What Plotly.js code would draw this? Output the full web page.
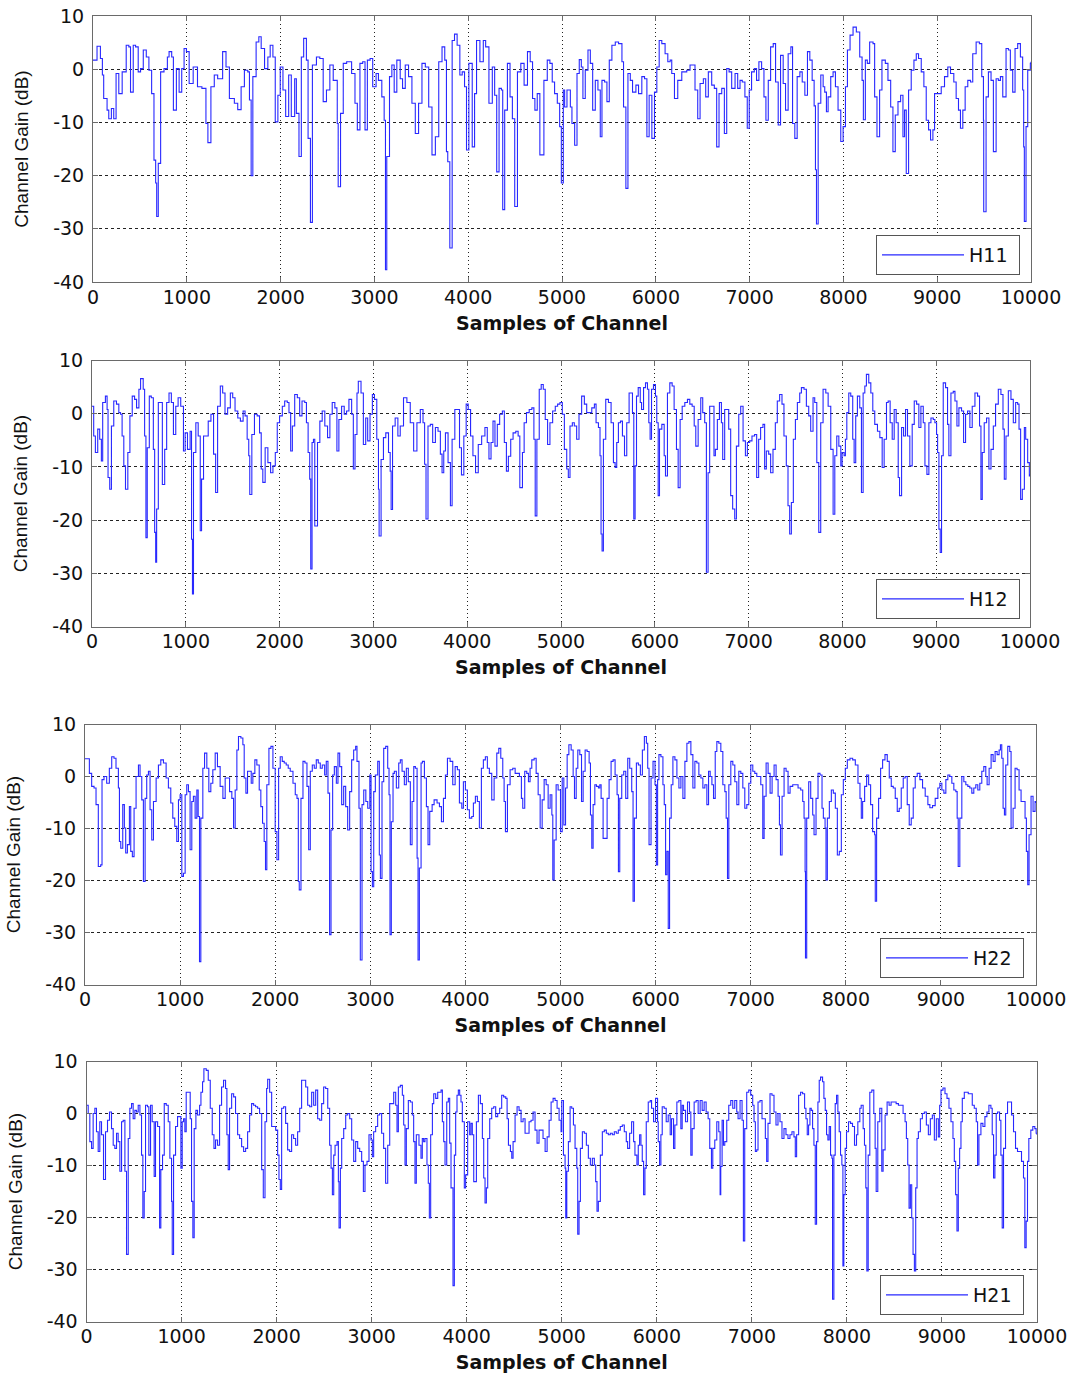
<!DOCTYPE html>
<html>
<head>
<meta charset="utf-8">
<script src="https://cdn.plot.ly/plotly-3.0.1.min.js"></script>
<style>
html,body{margin:0;padding:0;background:#fff;}
#chart{width:1082px;height:1376px;}
</style>
</head>
<body>
<div id="chart"></div>
<script>
// ---- data (x: sample index, y: channel gain in dB) ----
const seriesNames = ['H11', 'H12', 'H22', 'H21'];
const xTickVals = [0, 1000, 2000, 3000, 4000, 5000, 6000, 7000, 8000, 9000, 10000];
const xTickText = ['0', '1000', '2000', '3000', '4000', '5000', '6000', '7000', '8000', '9000', '10000'];
const yTickVals = [-40, -30, -20, -10, 0, 10];
const yTickText = ['-40', '-30', '-20', '-10', '0', '10'];
const xLabel = 'Samples of Channel';
const yLabel = 'Channel Gain (dB)';

const h11 = [[0,1.7],[43,4.3],[79,2.0],[100,-1.1],[114,-5.5],[150,-7.7],[168,-9.3],[196,-7.4],[221,-9.3],[246,-0.8],[275,-4.6],[311,-0.5],[354,4.5],[382,4.2],[400,-4.3],[429,4.5],[454,4.2],[482,-0.5],[507,0.1],[536,3.6],[568,2.3],[596,-0.2],[625,-4.6],[650,-17.1],[668,-21.4],[679,-27.7],[696,-17.7],[721,-0.5],[757,0.1],[793,2.3],[811,3.3],[839,2.3],[857,-7.7],[889,0.1],[918,-4.3],[946,0.1],[971,3.9],[996,3.3],[1025,-2.7],[1068,0.4],[1114,-3.3],[1161,-3.6],[1204,-10.2],[1225,-13.8],[1257,-3.3],[1293,-1.1],[1329,-1.8],[1382,3.3],[1418,0.4],[1454,-5.5],[1507,-6.4],[1543,-7.6],[1579,-3.3],[1614,-0.2],[1650,-0.5],[1668,-5.8],[1686,-20],[1704,-1.4],[1739,5.1],[1768,6.1],[1793,3.9],[1829,0.1],[1864,2.3],[1889,4.5],[1918,2.3],[1943,-9.9],[1971,-4.9],[1996,0.4],[2025,-3.9],[2054,-8.9],[2086,-1.1],[2114,-8.9],[2150,-1.8],[2168,-8.3],[2196,-16.4],[2221,2.3],[2246,5.8],[2275,1.7],[2293,-13],[2318,-28.8],[2339,0.8],[2382,2.3],[2418,2],[2454,-6.1],[2489,-3.9],[2525,0.8],[2561,-2.1],[2604,-10.2],[2614,-22.1],[2639,-8.3],[2668,1.1],[2704,1.4],[2757,-0.8],[2793,-6.4],[2818,-11.4],[2846,1.1],[2875,1.4],[2900,-11.4],[2925,1.7],[2954,2.0],[2982,-3.3],[3018,-0.8],[3043,-2.1],[3079,-5.2],[3104,-9.6],[3118,-37.7],[3132,-16.4],[3161,-1.4],[3186,0.8],[3211,-4.3],[3239,1.7],[3275,-1.8],[3300,-3.6],[3329,0.8],[3364,-1.4],[3400,-6.4],[3436,-12.1],[3471,-6.4],[3507,1.1],[3543,0.4],[3579,-7.1],[3614,-16.1],[3650,-12.7],[3686,1.4],[3721,4.2],[3750,1.7],[3768,-15.5],[3782,-17.4],[3804,-33.6],[3829,5.4],[3854,6.6],[3882,4.5],[3911,-1.1],[3936,-0.5],[3961,-3.3],[3982,-15.2],[4007,1.1],[4043,-14.6],[4068,-4.6],[4089,5.4],[4125,1.4],[4161,5.4],[4186,4.2],[4221,-6.4],[4257,0.4],[4282,-4.9],[4304,-19.3],[4329,-3.6],[4354,-3.9],[4368,-26.4],[4389,-7.7],[4418,1.1],[4446,-5.2],[4471,-9.3],[4496,-25.8],[4525,-0.5],[4561,1.1],[4596,-3],[4632,3.3],[4661,1.4],[4686,-5.5],[4711,-7.7],[4736,-4.6],[4764,-16.1],[4807,-2.1],[4843,1.7],[4871,1.1],[4896,-2.4],[4921,-4.6],[4950,-6.4],[4975,-10.8],[4993,-21.4],[5014,-3.9],[5028,-7.1],[5053,-3.9],[5089,-7.1],[5106,-10.2],[5135,-14.3],[5160,-0.8],[5184,1.8],[5206,0.4],[5223,-5.5],[5248,-0.2],[5277,3.6],[5302,1.1],[5327,-7.7],[5355,-2.1],[5383,-3.9],[5408,-12.7],[5426,-2.1],[5454,-2.4],[5479,-6.1],[5504,1.7],[5532,4.5],[5568,5.1],[5603,4.8],[5639,1.4],[5656,-7.1],[5681,-22.4],[5703,-0.8],[5728,-2.1],[5752,-4.3],[5788,-3],[5816,-4.6],[5851,-1.4],[5880,-1.8],[5905,-12.7],[5929,-4.9],[5958,-13],[5986,-4.3],[6011,0.4],[6036,5.4],[6064,4.8],[6099,2.9],[6128,1.4],[6153,1.7],[6170,-0.8],[6199,-5.5],[6234,-2.1],[6277,-0.5],[6330,-0.2],[6365,0.8],[6401,0.8],[6418,-3.9],[6447,-9.3],[6472,-2.7],[6507,-1.8],[6532,-5.2],[6560,-0.5],[6596,-3],[6624,-3.6],[6649,-14.6],[6674,-4.6],[6703,-3.6],[6731,-12.1],[6756,0.1],[6781,-0.5],[6809,-3.6],[6845,-0.8],[6873,-3.6],[6898,-2.1],[6922,-2.4],[6950,-5.2],[6975,-11.1],[6996,-3.9],[7021,-0.5],[7050,0.1],[7074,-2.1],[7099,1.4],[7128,0.1],[7153,-5.2],[7174,-9.6],[7199,-2.1],[7224,4.2],[7252,4.8],[7277,-2.4],[7305,-10.5],[7330,2.6],[7358,-2.7],[7383,-7.7],[7411,2.9],[7440,4.2],[7458,-10.2],[7482,-13],[7507,-1.4],[7536,-0.5],[7561,-2.4],[7589,-4.9],[7617,3.3],[7642,1.7],[7667,-2.1],[7688,-6.9],[7702,-18.9],[7713,-29.1],[7731,-6.4],[7759,-1.1],[7784,-3.3],[7801,-4.3],[7819,-8],[7837,-5.2],[7865,-1.4],[7890,-0.5],[7915,-3.3],[7943,-7.7],[7972,-13.6],[7997,-10.8],[8022,-3.3],[8043,3.6],[8071,6.4],[8103,7.9],[8138,7.0],[8174,2.3],[8199,-2.1],[8213,-9.5],[8234,1.7],[8255,1.1],[8280,5.1],[8316,4.8],[8333,-5.2],[8358,-12.7],[8386,-3.9],[8411,1.7],[8447,1.1],[8475,-2.1],[8504,-7.1],[8528,-15.5],[8553,-8.6],[8582,-6.1],[8610,-4.9],[8635,-12.7],[8652,-7.7],[8670,-19.6],[8695,-3.9],[8723,-0.2],[8752,1.7],[8777,2.9],[8801,2],[8830,-0.5],[8858,-3.3],[8883,-9.6],[8908,-11.4],[8929,-13.3],[8954,-11.4],[8972,-4.6],[9007,-4.6],[9043,-3.3],[9078,-1.4],[9113,0.4],[9142,-0.8],[9177,-2.4],[9202,-5.5],[9227,-7.7],[9248,-11.1],[9273,-7.7],[9298,-3.3],[9326,-2.1],[9355,-2.4],[9379,2.9],[9415,5.1],[9450,4.8],[9475,-1.4],[9493,-9.6],[9496,-26.8],[9521,-5.2],[9546,-0.5],[9574,-2.1],[9599,-15.5],[9628,-1.8],[9652,-2.1],[9674,-1.4],[9699,-5.2],[9734,3.9],[9759,3.6],[9780,-0.2],[9805,-4.3],[9830,3.9],[9858,4.8],[9887,2.3],[9911,-3.9],[9922,-14.6],[9929,-28.6],[9947,-10.8],[9965,-0.2],[9993,1.1],[10000,1.4]];

const h12 = [[0,1.4],[18,-4.2],[36,-7.3],[61,-2.9],[82,-4.8],[100,-8.9],[114,2.1],[143,3.3],[161,0.8],[171,-12.0],[189,-14.2],[207,-2.3],[232,2.4],[261,1.8],[286,0.2],[304,-0.1],[321,-4.2],[339,-9.8],[357,-14.2],[382,-7.3],[404,-0.4],[429,3.3],[454,2.7],[475,1.1],[500,4.6],[518,6.6],[546,4.6],[561,-4.2],[575,-23.3],[589,-6.4],[611,3.3],[632,3.0],[654,-6.7],[668,-22.3],[679,-27.9],[689,-17.9],[707,2.1],[732,2.1],[750,-13.3],[775,-6.7],[796,2.1],[821,3.9],[846,2.1],[868,-3.9],[893,1.4],[918,3.0],[946,1.4],[975,-7.0],[993,-3.6],[1018,-6.7],[1046,-3.3],[1061,-23.6],[1071,-33.9],[1082,-7.3],[1107,-1.7],[1132,-4.2],[1154,-22.0],[1168,-12.3],[1189,-4.2],[1214,-4.2],[1239,-1.4],[1268,-0.1],[1296,-7.6],[1318,-14.8],[1339,1.4],[1368,5.2],[1393,3.9],[1418,-0.1],[1446,1.1],[1475,3.9],[1500,3.0],[1525,0.5],[1554,-0.8],[1582,-1.4],[1611,0.5],[1632,-0.4],[1654,-4.8],[1671,-7.9],[1682,-15.2],[1704,-3.9],[1732,-0.1],[1761,-0.4],[1786,-3.6],[1804,-10.4],[1821,-12.9],[1846,-6.4],[1875,-9.2],[1904,-11.1],[1929,-9.8],[1954,-7.3],[1975,-1.7],[2000,-0.4],[2029,1.4],[2054,2.4],[2082,2.1],[2100,0.2],[2118,-7.0],[2136,-2.3],[2161,3.6],[2189,3.0],[2214,-0.4],[2239,2.4],[2268,2.1],[2286,-1.7],[2304,-7.3],[2321,-12.3],[2332,-29.2],[2346,-5.4],[2361,-4.8],[2375,-21.1],[2393,-21.1],[2404,-5.4],[2429,-1.4],[2454,0.5],[2482,-2.3],[2511,-4.5],[2536,-0.1],[2561,2.1],[2589,1.1],[2611,-7.0],[2632,-1.1],[2661,1.4],[2689,-0.1],[2714,0.5],[2739,2.7],[2768,-0.1],[2786,-10.4],[2804,-3.9],[2825,3.9],[2839,6.1],[2868,3.9],[2893,-5.8],[2918,-0.8],[2939,-5.1],[2964,-0.1],[2989,3.6],[3011,2.7],[3036,-4.8],[3054,-14.2],[3061,-23.0],[3082,-8.6],[3107,-4.5],[3132,-3.6],[3161,-7.3],[3179,-10.8],[3189,-18.0],[3204,-2.3],[3232,-0.8],[3261,-4.2],[3286,-2.3],[3321,3.0],[3357,2.1],[3393,-1.7],[3429,-7.0],[3464,-1.7],[3500,0.8],[3529,-1.7],[3546,-9.5],[3561,-19.8],[3582,-2.3],[3607,-2.0],[3632,-5.4],[3661,-2.6],[3689,-3.3],[3714,-7.6],[3732,-11.1],[3750,-7.0],[3768,-3.6],[3796,-9.2],[3821,-17.3],[3839,-4.8],[3868,0.8],[3893,0.8],[3918,-6.4],[3939,-11.5],[3964,-4.2],[3989,1.8],[4011,0.8],[4036,-4.2],[4061,-7.9],[4089,-11.1],[4118,-5.8],[4154,-4.2],[4189,-2.6],[4214,-5.4],[4232,-8.5],[4254,-5.4],[4275,-1.4],[4296,-6.1],[4321,-2.0],[4346,-0.1],[4375,0.5],[4396,-5.4],[4418,-10.8],[4439,-8.0],[4464,-4.8],[4489,-3.6],[4518,-3.3],[4543,-4.2],[4561,-13.9],[4589,-7.3],[4607,-1.7],[4632,0.2],[4661,0.8],[4689,1.1],[4711,-4.8],[4725,-19.2],[4743,-4.8],[4768,4.6],[4789,5.5],[4811,4.6],[4832,-1.1],[4857,-5.8],[4882,-1.7],[4911,0.5],[4939,1.4],[4964,1.8],[4989,2.1],[5014,-0.1],[5036,-6.7],[5061,-10.4],[5078,-12.0],[5096,-2.3],[5121,-1.7],[5142,-2.3],[5167,-4.8],[5192,-0.1],[5220,3.3],[5249,1.8],[5274,0.2],[5299,0.2],[5328,1.1],[5356,1.8],[5374,-1.7],[5399,-2.6],[5416,-7.9],[5427,-22.6],[5438,-25.8],[5452,-4.8],[5477,2.7],[5506,2.1],[5534,-1.7],[5559,-9.2],[5577,-10.1],[5594,-5.4],[5612,-1.7],[5634,-1.4],[5655,-4.2],[5677,-7.9],[5701,-1.7],[5726,3.9],[5748,3.9],[5762,0.2],[5776,-19.8],[5790,-9.8],[5805,3.3],[5823,4.9],[5845,2.1],[5859,0.8],[5880,4.9],[5901,5.8],[5922,4.6],[5936,-1.7],[5950,-4.8],[5965,4.6],[5986,5.5],[6007,3.3],[6021,-1.7],[6036,-15.4],[6050,-2.9],[6075,-2.0],[6100,-7.9],[6114,-11.7],[6135,3.9],[6160,5.8],[6185,5.2],[6206,0.8],[6231,-6.7],[6249,-13.9],[6270,-1.1],[6292,1.4],[6320,2.1],[6348,2.7],[6373,1.8],[6398,1.4],[6420,-2.3],[6437,-6.1],[6462,-1.1],[6490,3.0],[6511,0.2],[6532,-1.7],[6550,-29.8],[6568,-11.1],[6585,1.4],[6610,1.4],[6631,-7.9],[6646,-6.7],[6667,-1.1],[6689,2.1],[6710,-1.7],[6724,-8.6],[6745,0.8],[6766,0.8],[6788,-2.9],[6809,-15.4],[6830,-17.9],[6852,-19.8],[6870,-6.1],[6895,-0.1],[6916,1.4],[6941,-5.1],[6966,-7.9],[6987,-5.4],[7011,-5.1],[7036,-4.2],[7064,-3.9],[7086,-12.0],[7107,-4.8],[7128,-2.6],[7153,-2.0],[7171,-10.4],[7189,-7.0],[7214,-7.6],[7235,-11.1],[7260,-6.7],[7285,-1.7],[7306,2.4],[7331,3.6],[7356,1.8],[7377,-4.2],[7402,-9.8],[7420,-17.3],[7438,-22.6],[7456,-16.7],[7477,-4.8],[7499,-1.1],[7520,2.1],[7545,3.9],[7563,4.9],[7591,4.6],[7616,1.4],[7641,-0.4],[7662,-3.3],[7687,3.0],[7705,2.1],[7727,-9.2],[7748,-22.3],[7769,-1.7],[7794,4.6],[7823,3.9],[7848,1.4],[7876,-6.7],[7901,-18.9],[7919,-7.9],[7940,-4.2],[7962,-6.1],[7983,-9.8],[7997,-7.3],[8018,-7.9],[8032,-4.8],[8047,0.2],[8068,3.9],[8089,3.3],[8110,-4.8],[8125,-9.2],[8142,-0.4],[8160,3.3],[8185,1.1],[8203,-14.8],[8221,3.9],[8239,5.2],[8256,7.4],[8281,5.8],[8303,3.9],[8324,0.5],[8345,-2.0],[8374,-3.3],[8399,-4.5],[8424,-10.1],[8445,-4.8],[8470,2.1],[8488,2.4],[8509,-1.7],[8531,-4.8],[8552,0.8],[8573,-1.7],[8595,-12.0],[8609,-15.4],[8631,-2.6],[8652,-4.2],[8673,0.8],[8694,-4.2],[8719,-9.8],[8744,-2.0],[8766,2.4],[8791,1.8],[8815,-2.6],[8837,1.4],[8862,-1.7],[8880,-9.8],[8901,-11.4],[8922,-1.7],[8944,-0.8],[8969,-1.1],[8986,-1.7],[9004,-3.9],[9015,-7.3],[9029,-21.7],[9043,-26.1],[9057,-7.9],[9075,5.8],[9100,4.9],[9121,-2.0],[9135,-7.9],[9157,3.9],[9182,4.2],[9200,2.4],[9221,-2.3],[9242,1.1],[9270,0.5],[9292,-5.4],[9313,-0.1],[9334,0.5],[9359,-2.6],[9384,1.4],[9413,3.9],[9441,3.3],[9462,-2.3],[9477,-16.1],[9491,-7.3],[9512,-1.7],[9537,-0.8],[9562,-10.4],[9584,-6.7],[9609,-2.3],[9633,1.8],[9662,4.6],[9690,3.6],[9712,-2.9],[9726,-12.3],[9744,-4.2],[9769,4.3],[9797,2.7],[9822,-1.7],[9847,2.1],[9868,1.8],[9883,-2.9],[9900,-16.1],[9918,-14.2],[9940,-2.6],[9954,-4.8],[9975,-9.2],[9993,-11.7],[10000,-11.4]];

const h22 = [[0,3.4],[25,3.4],[46,0.6],[70,-1.9],[95,-2.2],[116,-5.4],[140,-17.3],[165,-17.0],[179,-0.6],[200,0],[228,-1.3],[256,1.6],[281,3.8],[305,3.5],[326,1.6],[351,-2.2],[362,-12.5],[376,-13.8],[397,-5.4],[414,-9.9],[428,-14.7],[446,-13.1],[467,-5.8],[481,-14.4],[498,-15.4],[516,-6.1],[537,0],[562,2.2],[579,0],[597,-4.5],[614,-20.2],[632,-4.2],[649,0.3],[667,1.0],[684,-6.4],[702,-12.2],[720,-4.8],[748,-0.3],[772,2.2],[797,3.2],[825,2.6],[853,-0.3],[877,-2.2],[902,-5.1],[923,-8.0],[944,-9.6],[965,-12.5],[983,-4.5],[1000,-3.5],[1018,-19.2],[1035,-18.6],[1053,-3.5],[1070,-1.6],[1088,-2.9],[1105,-14.1],[1123,-4.8],[1140,-3.8],[1158,-8.0],[1176,-2.6],[1190,-7.7],[1204,-35.6],[1218,-8.0],[1239,1.6],[1257,4.5],[1281,1.6],[1302,-2.9],[1323,-1.3],[1344,1.3],[1369,4.5],[1393,1.9],[1421,-1.9],[1450,-4.2],[1474,-0.3],[1492,-0.3],[1520,-2.9],[1544,-4.2],[1562,-9.9],[1579,-2.6],[1597,5.1],[1614,7.7],[1639,7.4],[1660,6.1],[1674,-0.3],[1692,-3.2],[1709,1.0],[1730,1.0],[1748,-1.3],[1765,0.6],[1786,3.2],[1807,2.2],[1832,-2.6],[1849,-5.8],[1867,-9.0],[1884,-12.5],[1898,-17.9],[1912,-1.6],[1934,5.4],[1955,5.8],[1976,1.6],[2000,-10.6],[2018,-16.0],[2036,1.6],[2053,3.8],[2074,2.9],[2095,2.6],[2116,2.2],[2137,1.6],[2158,1.0],[2187,-1.3],[2211,-3.5],[2229,-4.2],[2243,-20.2],[2253,-21.8],[2271,-4.2],[2292,2.9],[2313,2.6],[2334,-1.9],[2352,-14.1],[2369,1.0],[2390,2.2],[2411,1.6],[2432,3.2],[2453,2.6],[2474,1.6],[2495,2.2],[2520,0.3],[2537,2.9],[2555,-3.2],[2572,-30.4],[2587,-10.3],[2604,0.3],[2622,1.9],[2643,-1.3],[2660,4.5],[2678,1.9],[2699,-5.4],[2720,-1.9],[2741,-5.8],[2762,-10.3],[2783,-2.9],[2804,3.2],[2825,5.1],[2846,5.8],[2860,2.9],[2881,-6.1],[2895,-35.3],[2913,-5.4],[2931,-2.6],[2953,-4.8],[2973,-6.1],[2995,0.3],[3008,-18.3],[3022,-21.2],[3036,-2.9],[3053,0.3],[3078,2.9],[3095,-15.1],[3106,-19.6],[3123,-1.0],[3141,5.4],[3162,5.8],[3183,1.6],[3197,-3.5],[3207,-30.4],[3221,-8.7],[3239,0.6],[3253,1.0],[3274,-2.2],[3299,2.6],[3316,3.2],[3334,1.0],[3358,-1.6],[3379,1.6],[3400,-1.0],[3421,-13.1],[3439,-4.8],[3457,1.9],[3474,1.6],[3492,-15.7],[3502,-35.3],[3516,-17.6],[3534,2.6],[3548,2.9],[3569,-0.3],[3590,-5.8],[3607,-13.1],[3625,-6.7],[3650,-5.4],[3671,-4.5],[3702,-5.1],[3727,-5.8],[3748,-8.7],[3769,-4.2],[3790,0.3],[3811,3.5],[3839,2.9],[3867,-1.6],[3892,1.9],[3916,1.3],[3937,-5.1],[3962,-6.1],[3979,-1.0],[4000,-2.6],[4021,-6.4],[4042,-8.0],[4067,-7.7],[4084,-5.1],[4105,-3.8],[4126,-4.8],[4147,-9.9],[4168,1.6],[4189,3.2],[4210,3.8],[4231,1.6],[4252,0.6],[4277,-4.5],[4302,-0.3],[4330,4.5],[4351,5.4],[4372,3.5],[4393,-0.3],[4407,-4.8],[4421,-10.6],[4442,-1.6],[4470,1.3],[4498,1.6],[4523,0.6],[4547,0.6],[4568,0],[4589,-4.2],[4603,-6.1],[4624,1.0],[4645,0.6],[4663,-1.0],[4680,1.6],[4698,3.2],[4723,3.5],[4744,0.6],[4765,-3.5],[4786,-9.9],[4807,-4.5],[4828,-0.6],[4849,-1.6],[4870,-6.1],[4891,-3.5],[4909,-7.4],[4919,-19.9],[4933,-12.2],[4954,-1.6],[4975,-2.6],[5000,-10.6],[5018,-0.3],[5035,-9.3],[5053,-2.2],[5070,4.2],[5088,6.1],[5112,5.1],[5133,0],[5147,-4.2],[5165,1.6],[5182,5.1],[5203,4.2],[5221,-4.8],[5238,1.0],[5259,5.1],[5280,4.8],[5301,2.6],[5315,-7.4],[5329,-13.8],[5343,-5.4],[5361,-1.6],[5378,-1.9],[5399,-2.2],[5413,-1.6],[5427,-4.2],[5448,-11.9],[5469,-11.9],[5490,-4.2],[5511,-0.6],[5532,2.9],[5553,3.2],[5574,0.3],[5595,-3.5],[5609,-18.3],[5623,-4.2],[5644,0.3],[5665,1.0],[5686,-4.2],[5707,3.5],[5728,1.6],[5749,-2.9],[5763,-24.0],[5777,-8.0],[5798,2.6],[5819,2.2],[5840,0.3],[5861,5.1],[5882,7.7],[5903,6.4],[5917,1.6],[5931,-13.1],[5952,-0.3],[5973,2.9],[5994,-1.6],[6008,-17.0],[6021,-0.6],[6035,4.2],[6056,3.8],[6077,-1.6],[6091,-5.4],[6105,-18.9],[6119,-14.4],[6133,-29.2],[6147,-8.0],[6164,-1.6],[6182,3.8],[6203,3.2],[6224,-0.3],[6245,-2.2],[6266,0],[6287,-4.2],[6308,2.9],[6329,6.4],[6350,6.7],[6371,4.2],[6392,-2.2],[6413,2.9],[6434,2.6],[6455,0.3],[6476,-0.3],[6497,-2.2],[6518,-1.6],[6539,-5.4],[6557,1.0],[6574,0],[6592,-1.6],[6609,-4.2],[6627,4.8],[6644,6.7],[6665,6.4],[6686,4.8],[6707,-1.6],[6728,-2.9],[6742,-8.0],[6756,-19.6],[6770,-1.6],[6791,2.9],[6812,2.2],[6833,-1.0],[6854,-5.4],[6875,1.0],[6896,0.6],[6917,-2.2],[6938,-6.1],[6959,-5.4],[6980,-1.3],[7001,2.2],[7022,1.0],[7043,0.6],[7064,0],[7085,0],[7106,-1.6],[7127,-11.9],[7141,-3.8],[7162,2.6],[7183,0.6],[7204,-3.2],[7225,0],[7246,2.2],[7267,-0.6],[7288,-3.8],[7302,-9.3],[7313,-15.1],[7330,-3.8],[7351,1.6],[7372,1.0],[7393,-3.2],[7414,-1.9],[7442,-1.6],[7470,-1.6],[7498,-2.2],[7526,-2.6],[7547,-4.8],[7561,-8.0],[7572,-18.3],[7576,-34.9],[7589,-8.0],[7610,-1.0],[7631,-4.2],[7652,-7.4],[7666,-11.2],[7687,-4.2],[7708,0.6],[7729,0.3],[7750,-6.1],[7764,-8.0],[7782,-9.9],[7792,-19.9],[7806,-8.0],[7827,-4.8],[7848,-2.6],[7869,-3.2],[7890,-6.1],[7911,-15.1],[7932,-14.4],[7953,-3.5],[7974,-0.6],[7995,1.6],[8016,3.2],[8044,3.5],[8072,3.2],[8100,2.2],[8128,-1.3],[8149,-4.2],[8163,-8.0],[8177,-4.8],[8198,-1.9],[8219,0.3],[8240,-1.6],[8261,-5.4],[8282,-10.6],[8303,-11.2],[8310,-24.0],[8324,-8.0],[8345,-4.2],[8366,1.6],[8387,3.2],[8412,4.2],[8436,2.9],[8457,-0.3],[8478,-1.9],[8499,-2.2],[8520,-4.2],[8541,-6.7],[8562,-6.1],[8583,-2.2],[8604,-0.3],[8625,0],[8646,-5.4],[8667,-9.3],[8688,-8.0],[8709,-2.2],[8730,0],[8751,0.6],[8779,-0.6],[8807,-2.2],[8835,-3.8],[8863,-5.4],[8884,-6.0],[8912,-5.6],[8940,-4.2],[8968,-2.2],[8989,-1.3],[9010,-2.6],[9031,-3.2],[9052,-0.6],[9073,0.3],[9094,0],[9115,-1.3],[9136,-2.6],[9157,-2.9],[9171,-8.0],[9182,-17.3],[9199,-8.0],[9220,0],[9241,-1.0],[9262,-1.6],[9283,-1.9],[9304,-2.2],[9325,-3.2],[9346,-2.2],[9367,-1.6],[9388,-2.6],[9409,-1.3],[9430,1.0],[9451,1.9],[9472,0],[9486,-1.6],[9507,1.6],[9528,4.2],[9549,2.9],[9570,4.8],[9591,4.2],[9612,5.1],[9626,6.1],[9640,3.5],[9654,-6.1],[9668,-7.4],[9682,2.2],[9703,5.8],[9724,4.8],[9738,-9.9],[9759,-6.1],[9780,1.6],[9801,1.3],[9822,-2.6],[9843,-4.8],[9864,-4.8],[9885,-8.0],[9899,-14.4],[9913,-20.8],[9927,-11.2],[9948,-3.8],[9969,-6.7],[9990,-4.8],[10000,-5.1]];

const h21 = [[0,1.6],[18,0],[35,-5.4],[53,-6.7],[70,0],[88,1.0],[105,-3.5],[123,-7.3],[140,-1.6],[158,-4.1],[179,-12.7],[200,-3.5],[221,-1.3],[242,0.3],[263,-2.9],[281,-6.1],[298,-6.7],[316,-3.8],[333,-5.4],[351,-11.1],[369,-1.6],[386,-1.3],[404,-11.1],[421,-27.1],[439,-4.8],[456,1.0],[474,1.9],[491,-1.0],[509,0.6],[526,0.3],[544,1.6],[562,-0.3],[579,-8.0],[593,-20.1],[607,-15.0],[621,1.6],[642,1.3],[656,-8.0],[674,1.6],[691,-1.6],[712,-12.1],[726,-1.6],[748,-2.5],[769,-22.0],[782,-10.8],[800,-8.0],[818,1.9],[839,1.6],[860,-1.6],[877,-8.6],[895,-16.9],[902,-27.1],[916,-8.0],[937,-2.5],[958,-0.6],[979,-0.6],[993,-10.5],[1007,-1.6],[1021,-1.0],[1035,-3.5],[1049,4.1],[1070,4.1],[1091,-1.0],[1105,-16.9],[1119,-23.9],[1133,-2.9],[1151,0.6],[1168,-0.3],[1190,1.6],[1204,4.1],[1221,6.1],[1235,8.6],[1260,8.3],[1281,6.4],[1302,1.0],[1323,-4.1],[1341,-6.7],[1358,-5.1],[1379,-6.1],[1400,1.6],[1421,5.1],[1442,6.4],[1463,4.8],[1477,-4.1],[1491,-10.8],[1505,1.0],[1527,3.8],[1548,3.2],[1568,0],[1590,-4.1],[1611,-4.8],[1632,-6.4],[1653,-7.3],[1674,-6.7],[1695,-3.5],[1716,-0.3],[1737,1.9],[1758,1.6],[1779,1.3],[1800,1.0],[1821,0],[1843,-10.8],[1860,-16.2],[1878,-1.6],[1895,4.8],[1906,6.6],[1927,4.1],[1948,-2.5],[1969,-2.5],[1990,-3.2],[2011,-8.0],[2025,-12.7],[2039,-14.6],[2053,1.0],[2074,1.3],[2095,-1.9],[2116,-7.0],[2137,-7.3],[2158,-4.1],[2179,-4.8],[2200,-6.1],[2221,-3.5],[2243,1.0],[2263,6.4],[2285,6.4],[2306,5.1],[2327,1.6],[2348,1.3],[2369,4.1],[2390,1.6],[2411,4.5],[2432,-1.0],[2453,-1.3],[2474,1.9],[2495,5.1],[2516,4.8],[2538,1.0],[2558,-6.1],[2573,-10.5],[2587,-15.6],[2601,-8.0],[2615,-6.1],[2636,-5.4],[2650,-13.1],[2657,-22.0],[2671,-10.5],[2685,-4.8],[2706,-2.9],[2727,-0.3],[2748,0],[2769,-1.0],[2790,-5.1],[2811,-9.2],[2832,-5.4],[2853,-6.7],[2874,-7.3],[2895,-9.2],[2913,-15.0],[2930,-9.9],[2951,-9.2],[2972,-4.1],[2993,-5.1],[3007,-8.3],[3021,-3.5],[3042,-2.5],[3063,-0.3],[3084,0],[3105,-3.8],[3126,-6.7],[3147,-13.4],[3169,-6.1],[3190,1.9],[3211,1.9],[3232,4.1],[3253,1.6],[3267,-3.5],[3281,5.1],[3302,5.4],[3323,3.5],[3337,-2.2],[3351,-9.9],[3365,-2.9],[3386,2.5],[3407,2.2],[3428,-0.3],[3442,-5.4],[3456,-13.4],[3470,-4.1],[3484,-4.1],[3498,-6.1],[3519,-8.6],[3533,-4.8],[3547,-5.4],[3561,-4.8],[3582,-9.9],[3596,-13.4],[3607,-20.1],[3621,-4.1],[3639,1.9],[3653,3.8],[3674,2.9],[3695,4.1],[3716,4.1],[3730,4.5],[3744,-1.6],[3758,-5.4],[3772,-9.9],[3790,2.2],[3807,2.9],[3821,-5.7],[3835,-14.3],[3849,-14.3],[3856,-33.1],[3870,-8.0],[3884,0.3],[3898,3.5],[3912,4.5],[3926,3.5],[3940,2.2],[3954,-1.6],[3975,-14.3],[3989,-11.8],[4010,-1.6],[4031,-4.1],[4045,-1.9],[4059,-4.1],[4074,-13.1],[4088,-13.1],[4102,-1.6],[4123,3.5],[4144,1.9],[4165,-4.8],[4179,-12.4],[4193,-17.2],[4207,-14.3],[4221,-4.8],[4242,-1.0],[4263,1.0],[4284,1.3],[4305,-0.6],[4326,0],[4347,1.0],[4368,3.5],[4389,3.2],[4411,2.9],[4425,-1.0],[4439,-6.1],[4460,-7.3],[4474,-8.6],[4488,-5.4],[4509,-0.3],[4530,1.3],[4551,0.6],[4572,-1.6],[4593,-1.0],[4614,-3.8],[4635,-3.8],[4656,-1.6],[4677,-1.3],[4698,0.3],[4719,-3.2],[4740,-5.7],[4761,-3.2],[4782,-3.2],[4803,-4.8],[4825,-7.3],[4846,-4.5],[4867,-1.3],[4888,2.2],[4909,2.9],[4930,2.5],[4951,1.0],[4972,-1.3],[4993,-3.5],[5000,2.5],[5018,-8.0],[5035,-10.5],[5042,-20.1],[5053,-11.1],[5070,-5.4],[5088,1.3],[5105,1.0],[5123,-2.2],[5140,-6.7],[5158,-10.5],[5168,-23.2],[5182,-16.9],[5196,-6.7],[5217,-3.5],[5238,-3.8],[5259,-6.1],[5280,-8.6],[5301,-9.9],[5322,-8.6],[5343,-9.9],[5357,-13.1],[5371,-18.8],[5385,-16.9],[5406,-8.0],[5427,-3.5],[5448,-3.2],[5469,-3.8],[5490,-4.1],[5511,-3.8],[5532,-4.1],[5553,-3.5],[5574,-3.8],[5595,-3.2],[5616,-2.5],[5637,-2.2],[5658,-3.5],[5679,-5.4],[5693,-6.7],[5714,-3.8],[5735,-1.6],[5756,-5.4],[5770,-8.0],[5791,-9.9],[5805,-6.1],[5819,-4.1],[5833,-6.1],[5847,-9.2],[5861,-15.6],[5875,-10.5],[5889,-1.6],[5910,2.2],[5931,2.5],[5945,1.0],[5966,-1.6],[5987,2.9],[6008,-1.6],[6015,-5.4],[6029,-9.9],[6043,-4.1],[6057,1.3],[6078,1.0],[6099,-1.6],[6120,-0.3],[6141,-4.1],[6155,-1.0],[6176,-6.7],[6190,-2.2],[6211,2.2],[6232,2.5],[6253,-2.9],[6267,1.6],[6281,0.6],[6302,-1.6],[6323,2.2],[6344,0.3],[6358,-8.0],[6372,-2.9],[6393,2.2],[6414,2.5],[6435,0],[6456,2.5],[6477,0.6],[6498,2.2],[6519,0.3],[6540,-1.0],[6557,-6.7],[6575,-10.5],[6589,-6.7],[6610,-5.1],[6631,-1.6],[6652,-3.5],[6666,-15.6],[6673,-10.2],[6687,-1.3],[6701,-6.1],[6715,-5.4],[6736,-1.3],[6757,1.6],[6778,2.5],[6799,1.0],[6820,2.5],[6841,0.3],[6855,-1.0],[6876,2.5],[6897,-1.3],[6911,-24.5],[6925,-2.9],[6946,4.1],[6967,4.5],[6988,3.5],[7009,1.6],[7023,-1.6],[7037,-7.3],[7051,-7.0],[7065,2.2],[7086,2.5],[7107,-1.0],[7128,-1.0],[7142,-4.8],[7156,-9.2],[7170,-1.9],[7191,3.8],[7212,3.5],[7233,0.3],[7254,-2.2],[7275,0],[7296,-1.6],[7317,-4.8],[7338,-2.9],[7359,-4.1],[7380,-4.8],[7401,-4.1],[7422,-3.5],[7443,-4.5],[7457,-8.3],[7471,-4.1],[7492,3.5],[7513,4.1],[7534,3.8],[7555,1.0],[7569,-1.0],[7583,-4.1],[7597,-2.2],[7611,1.0],[7625,0.6],[7639,-2.9],[7653,-6.1],[7667,-21.3],[7681,-5.4],[7695,2.2],[7709,6.4],[7723,7.0],[7744,6.1],[7758,2.9],[7772,0.6],[7786,-4.1],[7800,-5.1],[7814,-2.5],[7828,-8.0],[7842,-8.6],[7849,-35.7],[7863,-8.0],[7877,1.9],[7891,3.5],[7905,0.3],[7919,-3.5],[7933,-8.0],[7947,-9.9],[7958,-29.3],[7968,-15.6],[7982,-6.7],[7996,-3.5],[8017,-1.6],[8038,-1.9],[8059,-2.5],[8080,-6.1],[8101,-4.1],[8115,-1.6],[8136,1.0],[8150,1.6],[8171,-2.9],[8185,-6.1],[8199,-14.3],[8210,-30.3],[8224,-8.0],[8241,4.1],[8262,4.5],[8283,0],[8297,-6.7],[8308,-15.0],[8325,-1.6],[8346,1.0],[8367,-11.1],[8381,-7.0],[8402,-0.3],[8423,2.2],[8444,1.6],[8465,2.2],[8493,2.2],[8518,1.9],[8542,1.6],[8570,1.6],[8591,0],[8612,-1.6],[8626,-4.8],[8640,-9.9],[8654,-18.2],[8668,-13.7],[8682,-20.1],[8696,-27.1],[8710,-30.3],[8724,-14.3],[8738,-4.8],[8752,-3.5],[8773,-1.0],[8794,0],[8815,0.3],[8836,-2.2],[8857,-4.1],[8878,-1.0],[8899,-0.3],[8920,-5.1],[8941,-1.0],[8962,-4.5],[8976,1.6],[8990,4.5],[9011,4.9],[9032,3.8],[9053,2.9],[9074,1.0],[9095,-1.6],[9116,-4.8],[9130,-9.2],[9144,-15.6],[9158,-22.6],[9172,-10.5],[9186,-6.7],[9200,-1.6],[9214,2.9],[9235,4.1],[9256,4.1],[9277,3.8],[9298,3.8],[9319,1.6],[9340,1.0],[9361,-1.6],[9375,-9.9],[9389,-4.1],[9410,-1.9],[9431,-2.5],[9452,-0.6],[9473,0.3],[9494,1.6],[9515,1.0],[9529,-4.1],[9543,-12.4],[9557,-8.0],[9571,0],[9585,0.3],[9606,-1.3],[9620,-8.0],[9634,-22.0],[9648,-6.7],[9669,0],[9690,2.2],[9711,2.2],[9732,-0.3],[9753,-3.5],[9774,-6.7],[9795,-7.3],[9816,-7.3],[9837,-9.2],[9858,-12.4],[9872,-25.8],[9886,-20.7],[9900,-9.2],[9914,-4.8],[9935,-3.2],[9956,-2.5],[9977,-2.9],[9991,-3.8],[10000,-4.1]];

// ---- layout (pixel boxes of the four panels) ----
const W = 1082, H = 1376;
const boxes = [
  {l: 93, r: 1031, t: 16, b: 282},
  {l: 92, r: 1030, t: 360.5, b: 626.5},
  {l: 85, r: 1036, t: 724.5, b: 984.5},
  {l: 86.5, r: 1037, t: 1061.5, b: 1321.5}
];
const legendPos = [
  {r: 1020, b: 275},
  {r: 1020, b: 619},
  {r: 1024, b: 978},
  {r: 1024, b: 1315}
];
const allSeries = [h11, h12, h22, h21];

const tickFont = {family: 'DejaVu Sans, sans-serif', size: 19, color: '#111'};
const traces = [];
const layout = {
  width: W, height: H,
  margin: {l: 0, r: 0, t: 0, b: 0},
  paper_bgcolor: '#fff', plot_bgcolor: '#fff',
  showlegend: true
};

allSeries.forEach((s, i) => {
  const n = i + 1;
  const xa = n === 1 ? 'x' : 'x' + n;
  const ya = n === 1 ? 'y' : 'y' + n;
  const lg = n === 1 ? 'legend' : 'legend' + n;
  traces.push({
    x: s.map(p => p[0]),
    y: s.map(p => p[1]),
    xaxis: xa, yaxis: ya,
    type: 'scatter', mode: 'lines',
    name: seriesNames[i] + '\u00a0',
    legend: lg,
    line: {color: 'rgb(40,40,255)', width: 1.1, shape: 'hv'},
    hoverinfo: 'skip'
  });
  const b = boxes[i];
  const common = {
    showgrid: true, gridcolor: '#222', gridwidth: 1,
    zeroline: false,
    showline: true, linecolor: '#6a6a6a', linewidth: 1,
    mirror: 'ticks', ticks: 'inside', ticklen: 5, tickcolor: '#6a6a6a',
    tickfont: tickFont, automargin: false, fixedrange: true
  };
  layout[n === 1 ? 'xaxis' : 'xaxis' + n] = Object.assign({}, common, {
    domain: [b.l / W, b.r / W],
    anchor: ya,
    range: [0, 10000],
    tickmode: 'array', tickvals: xTickVals, ticktext: xTickText,
    griddash: '1px,3px',
    ticklabelstandoff: -2,
    title: {text: xLabel, font: {family: 'DejaVu Sans, sans-serif', size: 19, weight: 'bold', color: '#111'}, standoff: 9}
  });
  layout[n === 1 ? 'yaxis' : 'yaxis' + n] = Object.assign({}, common, {
    domain: [1 - b.b / H, 1 - b.t / H],
    anchor: xa,
    range: [-40, 10],
    tickmode: 'array', tickvals: yTickVals, ticktext: yTickText,
    griddash: '3px,3px',
    ticklabelstandoff: 4,
    title: {text: yLabel, font: {family: 'Liberation Sans, Arial, sans-serif', size: 19, color: '#111'}, standoff: 19}
  });
  const lp = legendPos[i];
  layout[lg] = {
    x: lp.r / W, y: 1 - lp.b / H,
    xanchor: 'right', yanchor: 'bottom',
    bgcolor: '#fff', bordercolor: '#555', borderwidth: 1,
    font: {family: 'DejaVu Sans, sans-serif', size: 19, color: '#111'},
    itemwidth: 82
  };
});

Plotly.newPlot('chart', traces, layout, {displayModeBar: false, staticPlot: true});
</script>
</body>
</html>
